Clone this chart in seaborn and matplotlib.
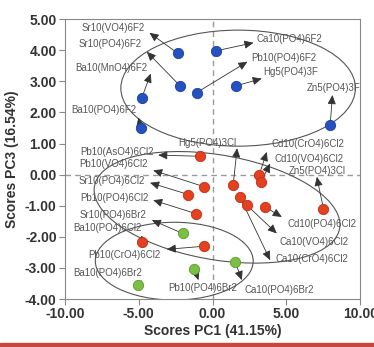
import pandas as pd
import seaborn as sns
import matplotlib
matplotlib.use("Agg")
from matplotlib import pyplot as plt
from matplotlib.patches import Ellipse, Rectangle

# compound names, scores and group (F / Cl / Br)
names = [
    "Sr10(VO4)6F2", "Sr10(PO4)6F2", "Ba10(MnO4)6F2", "Ba10(PO4)6F2",
    "Ca10(PO4)6F2", "Pb10(PO4)6F2", "Hg5(PO4)3F", "Zn5(PO4)3F",
    "Hg5(PO4)3Cl", "Cd10(CrO4)6Cl2", "Cd10(VO4)6Cl2", "Zn5(PO4)3Cl",
    "Pb10(AsO4)6Cl2", "Pb10(VO4)6Cl2", "Sr10(PO4)6Cl2", "Pb10(PO4)6Cl2",
    "Cd10(PO4)6Cl2", "Ca10(VO4)6Cl2", "Ca10(CrO4)6Cl2", "Ba10(PO4)6Cl2",
    "Pb10(CrO4)6Cl2",
    "Sr10(PO4)6Br2", "Ba10(PO4)6Br2", "Pb10(PO4)6Br2", "Ca10(PO4)6Br2",
]
pc1 = [-2.36, -2.20, -4.80, -4.87, 0.24, -1.07, 1.56, 7.97,
       1.39, 3.15, 3.29, 7.51, -0.85, -0.56, -1.64, -1.15,
       3.56, 2.32, 1.86, -4.80, -0.56,
       -2.02, -5.03, -1.23, 1.53]
pc3 = [3.90, 2.85, 2.47, 1.49, 3.98, 2.64, 2.85, 1.61,
       -0.34, -0.02, -0.23, -1.09, 0.59, -0.39, -0.64, -1.25,
       -1.04, -0.98, -0.73, -2.16, -2.30,
       -1.89, -3.55, -3.02, -2.80]
group = ["F"] * 8 + ["Cl"] * 13 + ["Br"] * 4

# label anchors (text centre) and arrow tips
label_x = [-6.71, -6.92, -6.88, -7.39, 5.19, 4.81, 5.32, 8.20,
           -0.37, 6.44, 6.51, 7.12, -6.47, -6.75, -6.81, -6.68,
           7.39, 6.88, 6.71, -7.12, -5.97,
           -6.78, -7.12, -0.68, 4.51]
label_y = [4.71, 4.20, 3.42, 2.07, 4.36, 3.75, 3.30, 2.78,
           1.01, 0.98, 0.50, 0.11, 0.72, 0.34, -0.21, -0.76,
           -1.59, -2.17, -2.72, -1.72, -2.59,
           -1.30, -3.17, -3.65, -3.71]
tip_x = [-4.28, -4.46, -4.19, -5.03, 2.77, 2.36, 3.33, 8.12,
         1.66, 3.67, 3.90, 7.06, -3.69, -4.03, -4.24, -4.03,
         4.69, 4.35, 3.90, -4.80, -3.11,
         -4.12, -4.80, -0.96, 1.98]
tip_y = [4.56, 3.95, 3.25, 1.84, 4.24, 3.63, 3.09, 2.56,
         0.85, 0.73, 0.36, -0.07, 0.63, 0.14, -0.26, -0.82,
         -1.36, -1.89, -2.75, -1.95, -2.40,
         -1.46, -3.39, -3.39, -3.39]

PALETTE = {"F": "#2452c2", "Cl": "#e5401f", "Br": "#7cc043"}
EDGES = {"F": "#1b3f99", "Cl": "#b8301a", "Br": "#5a9a2c"}

df = pd.DataFrame({"name": names, "pc1": pc1, "pc3": pc3, "group": group})

plt.rcParams["font.family"] = ["Liberation Sans", "DejaVu Sans"]
fig, ax = plt.subplots(figsize=(3.74, 3.47), dpi=100)
fig.subplots_adjust(left=0.174, right=0.963, top=0.945, bottom=0.138)

# group ellipses
ell_kw = dict(fill=False, edgecolor="#555555", lw=0.8, zorder=1)
ax.add_patch(Ellipse((1.73, 2.78), 15.9, 3.73, **ell_kw))
ax.add_patch(Ellipse((0.3, -1.05), 16.7, 3.4, angle=-4, **ell_kw))
ax.add_patch(Ellipse((-2.6, -2.78), 10.7, 2.5, **ell_kw))

ax.axhline(0, color="#9a9a9a", lw=1.0, ls=(0, (4, 3)), zorder=0)
ax.axvline(0, color="#9a9a9a", lw=1.0, ls=(0, (4, 3)), zorder=0)

for i in range(len(names)):
    ax.annotate("", xy=(tip_x[i], tip_y[i]), xytext=(pc1[i], pc3[i]),
                arrowprops=dict(arrowstyle="-|>,head_length=0.55,head_width=0.25",
                                color="#333333", lw=0.6, shrinkA=0, shrinkB=0),
                zorder=2)
    ax.text(label_x[i], label_y[i], names[i], ha="center", va="center",
            fontsize=7, color="#555555", zorder=4)

for g in ["F", "Cl", "Br"]:
    sub = df[df["group"] == g]
    sns.scatterplot(data=sub, x="pc1", y="pc3", color=PALETTE[g], s=55,
                    edgecolor=EDGES[g], linewidth=0.6, ax=ax, zorder=3, legend=False)

ax.set_xlim(-10, 10)
ax.set_ylim(-4, 5)
ax.set_xticks([-10, -5, 0, 5, 10])
ax.set_yticks(range(-4, 6))
ax.set_xticklabels([f"{v:.2f}" for v in [-10, -5, 0, 5, 10]])
ax.set_yticklabels([f"{v:.2f}" for v in range(-4, 6)])
ax.tick_params(axis="both", length=4, width=0.8, color="#888888", pad=2,
               labelsize=10, labelcolor="#333333")
for lab in ax.get_xticklabels() + ax.get_yticklabels():
    lab.set_fontweight("bold")
for sp in ax.spines.values():
    sp.set_color("#888888")
    sp.set_linewidth(0.8)

ax.set_xlabel("Scores PC1 (41.15%)", fontsize=10, fontweight="bold", color="#333333", labelpad=2)
ax.set_ylabel("Scores PC3 (16.54%)", fontsize=10, fontweight="bold", color="#333333", labelpad=4)

fig.patches.append(Rectangle((0, 0), 1, 4 / 347, transform=fig.transFigure,
                             color="#c8463c", zorder=0))

fig.savefig("out.png", dpi=100)
